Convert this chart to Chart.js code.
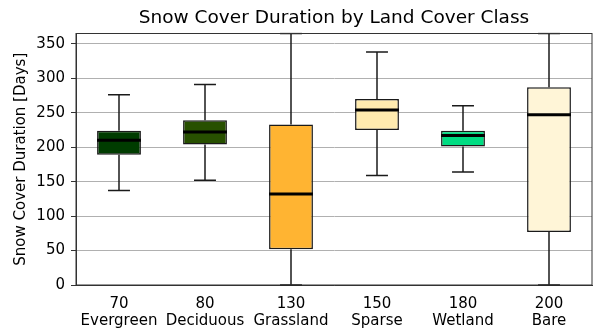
<!DOCTYPE html>
<html>
<head>
<meta charset="utf-8">
<script src="https://cdn.jsdelivr.net/npm/chart.js@4.4.1/dist/chart.umd.min.js"></script>
<style>
  html, body { margin: 0; padding: 0; background: #ffffff; }
  #wrap { width: 595px; height: 330px; }
</style>
</head>
<body>
<div id="wrap"><canvas id="c" width="595" height="330"></canvas></div>
<script>
// Land cover classes (ESA CCI codes) and their names
const classCodes = ['70', '80', '130', '150', '180', '200'];
const classNames = ['Evergreen', 'Deciduous', 'Grassland', 'Sparse', 'Wetland', 'Bare'];
const classColors = ['#003c00', '#285000', '#ffb432', '#ffebaf', '#00dc82', '#fff5d7'];

// Box plot statistics, snow cover duration in days
const whiskerLow  = [137, 152, 0,   159, 164, 0];
const quartile1   = [189, 204, 52,  225, 201, 77];
const medianDays  = [210, 222, 132, 254, 217, 247];
const quartile3   = [224, 239, 233, 270, 224, 287];
const whiskerHigh = [276, 291, 365, 338, 260, 365];

const yTicks = [0, 50, 100, 150, 200, 250, 300, 350];

const chartTitle = 'Snow Cover Duration by Land Cover Class';
const FONT = 'DejaVu Sans';

// Whiskers (drawn under boxes), medians (over boxes), frame and title
const boxExtras = {
  id: 'boxExtras',
  beforeDatasetsDraw(chart) {
    const { ctx, chartArea, scales: { x, y } } = chart;
    const meta = chart.getDatasetMeta(0);
    ctx.save();
    ctx.beginPath();
    ctx.rect(chartArea.left, chartArea.top - 1, chartArea.right - chartArea.left, chartArea.bottom - chartArea.top + 2);
    ctx.clip();
    ctx.strokeStyle = '#1a1a1a';
    ctx.lineWidth = 1.5;
    meta.data.forEach((bar, i) => {
      const cx = x.getPixelForValue(i);
      const half = bar.width / 4;
      const yl = y.getPixelForValue(whiskerLow[i]);
      const yh = y.getPixelForValue(whiskerHigh[i]);
      const y1 = y.getPixelForValue(quartile1[i]);
      const y3 = y.getPixelForValue(quartile3[i]);
      ctx.beginPath();
      ctx.moveTo(cx, y1); ctx.lineTo(cx, yl);
      ctx.moveTo(cx, y3); ctx.lineTo(cx, yh);
      ctx.moveTo(cx - half, yl); ctx.lineTo(cx + half, yl);
      ctx.moveTo(cx - half, yh); ctx.lineTo(cx + half, yh);
      ctx.stroke();
    });
    ctx.restore();
  },
  afterDatasetsDraw(chart) {
    const { ctx, scales: { x, y } } = chart;
    const meta = chart.getDatasetMeta(0);
    ctx.save();
    ctx.strokeStyle = '#000000';
    ctx.lineWidth = 3;
    meta.data.forEach((bar, i) => {
      const cx = x.getPixelForValue(i);
      const half = bar.width / 2;
      const ym = y.getPixelForValue(medianDays[i]);
      ctx.beginPath();
      ctx.moveTo(cx - half, ym); ctx.lineTo(cx + half, ym);
      ctx.stroke();
    });
    ctx.restore();
  },
  afterDraw(chart) {
    const { ctx, chartArea: a } = chart;
    ctx.save();
    // frame around the plotting area
    ctx.strokeStyle = '#333333';
    ctx.lineWidth = 1;
    ctx.strokeRect(a.left, a.top, a.right - a.left, a.bottom - a.top);
    // title centred over the plotting area
    ctx.fillStyle = '#000000';
    ctx.font = '18.5px "' + FONT + '"';
    ctx.textAlign = 'center';
    ctx.textBaseline = 'middle';
    ctx.fillText(chartTitle, (a.left + a.right) / 2, a.top - 15);
    ctx.restore();
  }
};

new Chart(document.getElementById('c'), {
  type: 'bar',
  data: {
    labels: classCodes.map((c, i) => [c, classNames[i]]),
    datasets: [{
      data: quartile1.map((q, i) => [q, quartile3[i]]),
      backgroundColor: classColors,
      borderColor: '#1a1a1a',
      borderWidth: 1.5,
      borderSkipped: false,
      barPercentage: 0.51,
      categoryPercentage: 1.0
    }]
  },
  options: {
    responsive: false,
    animation: false,
    layout: { padding: { top: 33.5, right: 3, left: 0, bottom: 0 } },
    plugins: {
      legend: { display: false },
      tooltip: { enabled: false },
      title: { display: false }
    },
    scales: {
      x: {
        grid: { display: false, drawTicks: true, tickLength: 5, tickColor: '#333333' },
        border: { display: true, color: '#333333', width: 1 },
        ticks: {
          color: '#000000',
          font: { family: FONT, size: 15, lineHeight: 1.1 },
          padding: 6,
          maxRotation: 0,
          autoSkip: false
        },
        afterFit(scale) { scale.height = 45; }
      },
      y: {
        min: 0,
        max: 365,
        afterBuildTicks(scale) { scale.ticks = yTicks.map(v => ({ value: v })); },
        grid: { color: '#b0b0b0', lineWidth: 1, drawTicks: true, tickLength: 5, tickColor: '#333333' },
        border: { display: true, color: '#333333', width: 1 },
        ticks: {
          color: '#000000',
          font: { family: FONT, size: 15 },
          padding: 6
        },
        title: {
          display: true,
          text: 'Snow Cover Duration [Days]',
          color: '#000000',
          font: { family: FONT, size: 15 },
          padding: { top: 12, bottom: 4 }
        },
        afterFit(scale) { scale.width = 76; }
      }
    }
  },
  plugins: [boxExtras]
});
</script>
</body>
</html>
